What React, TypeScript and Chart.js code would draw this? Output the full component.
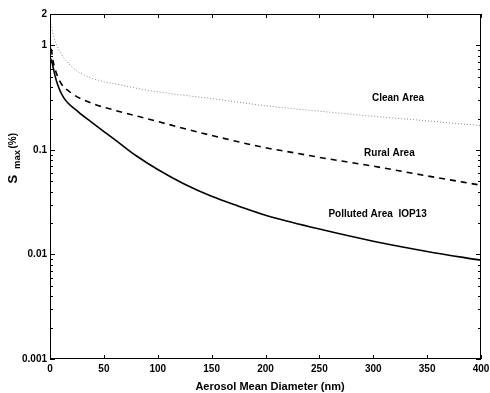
import React, { useEffect, useRef } from "react";
import { Chart, registerables } from "chart.js";

Chart.register(...registerables);

const cleanX = [0.5, 1.6, 3.5, 6, 11, 20, 32, 50, 65, 80, 100, 150, 200, 250, 300, 350, 400];
const cleanY = [1.6, 1.5, 1.2, 1.02, 0.81, 0.63, 0.52, 0.45, 0.42, 0.39, 0.36, 0.31, 0.265, 0.235, 0.21, 0.19, 0.171];

const ruralX = [1, 1.6, 3, 4.6, 9.3, 20, 38.7, 57, 77, 100, 148.5, 200, 229, 250, 300, 350, 400];
const ruralY = [0.93, 0.87, 0.7, 0.6, 0.45, 0.35, 0.28, 0.245, 0.216, 0.187, 0.139, 0.105, 0.093, 0.085, 0.07, 0.0565, 0.046];

const pollutedX = [0.5, 2, 4, 6.2, 12.4, 26, 40, 52, 65, 80, 100, 125, 150, 175, 200, 250, 300, 350, 400];
const pollutedY = [0.75, 0.68, 0.55, 0.45, 0.32, 0.233, 0.18, 0.145, 0.115, 0.088, 0.065, 0.047, 0.036, 0.029, 0.0237, 0.0175, 0.0134, 0.0107, 0.0088];

const xTicks = [0, 50, 100, 150, 200, 250, 300, 350, 400];
const yTicks = [0.001, 0.01, 0.1, 1, 2];
const yTickLabels = ["0.001", "0.01", "0.1", "1", "2"];

const seriesLabels = ["Clean Area", "Rural Area", "Polluted Area  IOP13"];
const labelX = [323, 315, 304];
const labelY = [0.315, 0.094, 0.0244];

const xTitle = "Aerosol Mean Diameter (nm)";

const FONT = "'Liberation Sans', Arial, sans-serif";

const toPts = (xs: number[], ys: number[]) => xs.map((x, i) => ({ x, y: ys[i] }));

const framePlugin = {
  id: "frame",
  afterDraw(chart: any) {
    const { ctx, chartArea: a, scales } = chart;
    const xs = scales.x;
    const ys = scales.y;
    ctx.save();
    ctx.strokeStyle = "#000";
    ctx.lineWidth = 1;
    ctx.strokeRect(a.left + 0.5, a.top + 0.5, a.right - a.left - 1, a.bottom - a.top - 1);
    ctx.beginPath();
    for (const v of xTicks) {
      const px = Math.round(xs.getPixelForValue(v)) + 0.5;
      ctx.moveTo(px, a.bottom);
      ctx.lineTo(px, a.bottom - 4);
      ctx.moveTo(px, a.top);
      ctx.lineTo(px, a.top + 4);
    }
    for (let e = -3; e <= 0; e++) {
      for (let m = 1; m <= 9; m++) {
        const v = m * Math.pow(10, e);
        if (v > 2) continue;
        const py = Math.round(ys.getPixelForValue(v)) + 0.5;
        const len = m === 1 ? 5 : 3;
        ctx.moveTo(a.left, py);
        ctx.lineTo(a.left + len, py);
        ctx.moveTo(a.right, py);
        ctx.lineTo(a.right - len, py);
      }
    }
    ctx.stroke();

    ctx.fillStyle = "#000";
    ctx.font = `bold 10px ${FONT}`;
    ctx.textAlign = "center";
    ctx.textBaseline = "middle";
    seriesLabels.forEach((t, i) => {
      ctx.fillText(t, xs.getPixelForValue(labelX[i]), ys.getPixelForValue(labelY[i]));
    });

    ctx.font = `bold 11px ${FONT}`;
    ctx.fillText(xTitle, 270, 387);

    ctx.translate(17, 183.5);
    ctx.rotate(-Math.PI / 2);
    ctx.textAlign = "left";
    ctx.textBaseline = "alphabetic";
    ctx.font = `bold 13px ${FONT}`;
    ctx.fillText("S", 0, 0);
    ctx.font = `bold 9.5px ${FONT}`;
    ctx.fillText("max", 14.5, 3);
    ctx.font = `bold 10px ${FONT}`;
    ctx.fillText("(%)", 35, -1);
    ctx.restore();
  },
};

export default function App() {
  const ref = useRef<HTMLCanvasElement | null>(null);
  useEffect(() => {
    if (!ref.current) return;
    const chart = new Chart(ref.current, {
      type: "line",
      data: {
        datasets: [
          {
            label: "Clean Area",
            data: toPts(cleanX, cleanY),
            borderColor: "#8a8a8a",
            borderWidth: 1,
            borderDash: [1, 2],
            pointRadius: 0,
            cubicInterpolationMode: "monotone",
            fill: false,
          },
          {
            label: "Rural Area",
            data: toPts(ruralX, ruralY),
            borderColor: "#000",
            borderWidth: 1.6,
            borderDash: [6, 5],
            pointRadius: 0,
            cubicInterpolationMode: "monotone",
            fill: false,
          },
          {
            label: "Polluted Area IOP13",
            data: toPts(pollutedX, pollutedY),
            borderColor: "#000",
            borderWidth: 1.6,
            pointRadius: 0,
            cubicInterpolationMode: "monotone",
            fill: false,
          },
        ],
      },
      options: {
        animation: false,
        responsive: false,
        maintainAspectRatio: false,
        layout: { padding: { top: 14, right: 9, left: 0, bottom: 0 } },
        plugins: {
          legend: { display: false },
          tooltip: { enabled: false },
          title: { display: false },
        },
        scales: {
          x: {
            type: "linear",
            min: 0,
            max: 400,
            afterBuildTicks: (s: any) => {
              s.ticks = xTicks.map((v) => ({ value: v }));
            },
            afterFit: (s: any) => {
              s.height = 34;
              s.paddingLeft = 0;
              s.paddingRight = 0;
              s.paddingTop = 0;
              s.paddingBottom = 0;
            },
            grid: { display: false, drawTicks: false },
            border: { display: false },
            ticks: {
              color: "#000",
              padding: 4,
              maxRotation: 0,
              font: { family: FONT, size: 10, weight: "bold" },
              callback: (v: any) => String(v),
            },
          },
          y: {
            type: "logarithmic",
            min: 0.001,
            max: 2,
            afterBuildTicks: (s: any) => {
              s.ticks = yTicks.map((v) => ({ value: v }));
            },
            afterFit: (s: any) => {
              s.width = 50;
              s.paddingLeft = 0;
              s.paddingRight = 0;
              s.paddingTop = 0;
              s.paddingBottom = 0;
            },
            grid: { display: false, drawTicks: false },
            border: { display: false },
            ticks: {
              color: "#000",
              padding: 3,
              autoSkip: false,
              font: { family: FONT, size: 10, weight: "bold" },
              callback: (v: any) => {
                const i = yTicks.indexOf(Number(v));
                return i >= 0 ? yTickLabels[i] : "";
              },
            },
          },
        },
      },
      plugins: [framePlugin],
    } as any);
    return () => chart.destroy();
  }, []);
  return (
    <div style={{ position: "absolute", left: 0, top: 0, width: 490, height: 393, background: "#fff" }}>
      <canvas ref={ref} width={490} height={393} style={{ width: 490, height: 393, display: "block" }} />
    </div>
  );
}
